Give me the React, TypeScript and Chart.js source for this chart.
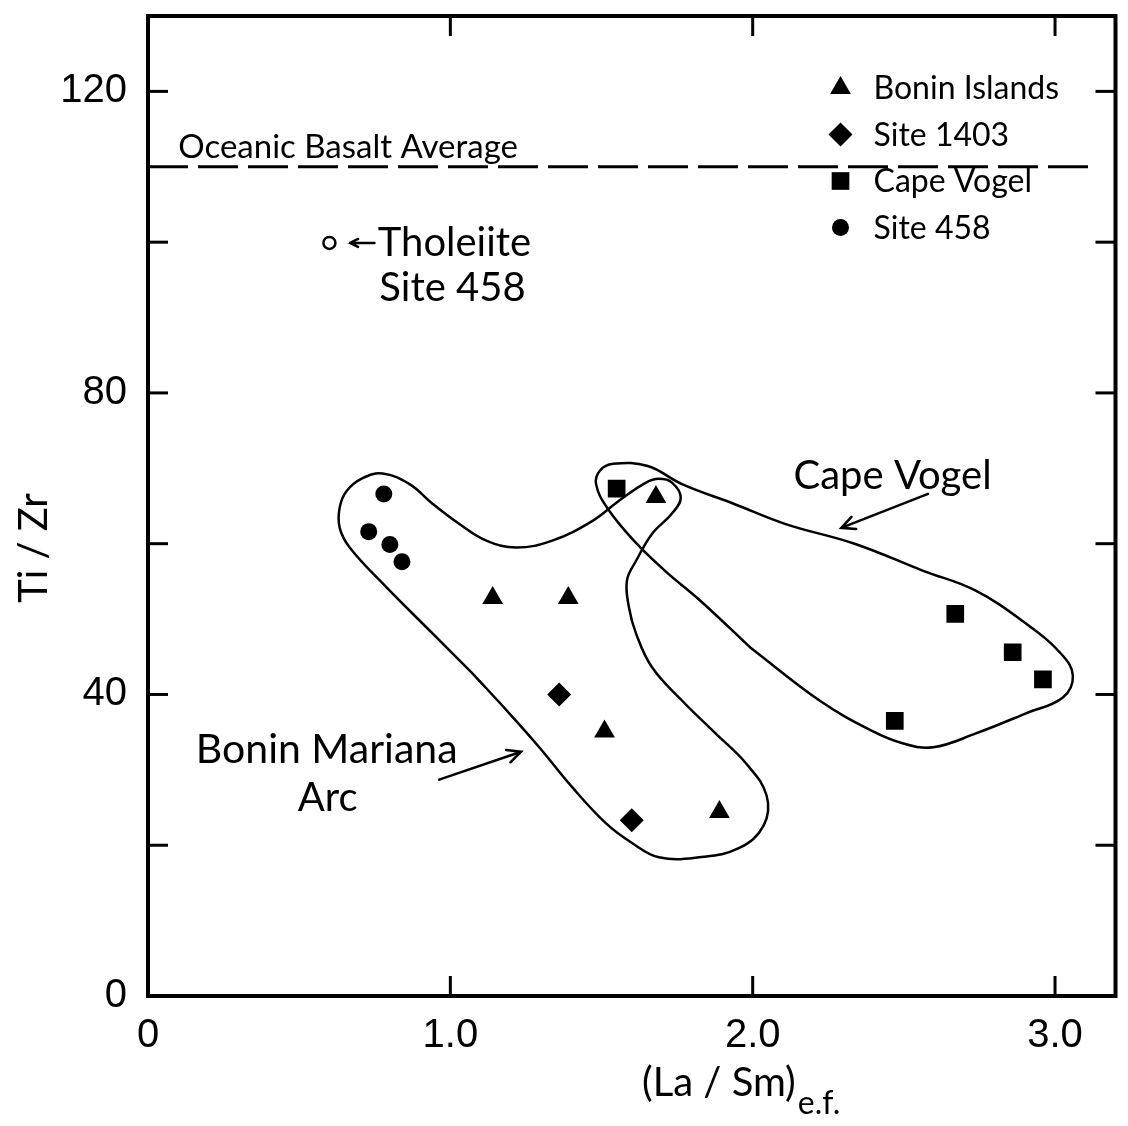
import React, { useEffect, useRef } from 'react';
import { Chart, registerables } from 'chart.js';
import { drawPoint } from 'chart.js/helpers';

Chart.register(...registerables);

// ---------------- data ----------------
const X_TICKS = [0, 1, 2, 3];
const X_TICK_LABELS = ['0', '1.0', '2.0', '3.0'];
const Y_TICKS = [0, 20, 40, 60, 80, 100, 120];
const Y_TICK_LABELS = ['0', '', '40', '', '80', '', '120'];

const BONIN_ISLANDS_X = [1.14, 1.39, 1.51, 1.89, 1.68];
const BONIN_ISLANDS_Y = [52.8, 52.8, 35.1, 24.4, 66.2];
const SITE_1403_X = [1.36, 1.6];
const SITE_1403_Y = [40.0, 23.3];
const CAPE_VOGEL_X = [1.55, 2.67, 2.86, 2.96, 2.47];
const CAPE_VOGEL_Y = [67.3, 50.7, 45.6, 42.0, 36.5];
const SITE_458_X = [0.78, 0.73, 0.8, 0.84];
const SITE_458_Y = [66.6, 61.6, 59.9, 57.6];
const THOLEIITE_X = [0.6];
const THOLEIITE_Y = [99.9];

const OCEANIC_AVG_X = [0.0, 3.14];
const OCEANIC_AVG_Y = [110, 110];

const BONIN_ENV_X = [1.073, 0.941, 0.789, 0.667, 0.634, 0.634, 0.657, 0.71, 0.776, 0.865, 0.941, 1.03, 1.119, 1.218, 1.337, 1.469, 1.558, 1.647, 1.69, 1.733, 1.762, 1.733, 1.667, 1.614, 1.584, 1.591, 1.614, 1.667, 1.766, 1.878, 1.977, 2.046, 2.036, 1.954, 1.822, 1.69, 1.601, 1.515, 1.403, 1.294, 1.195];
const BONIN_ENV_Y = [42.8, 48.1, 54.2, 59.5, 62.1, 64.8, 67.0, 68.7, 69.3, 67.9, 65.3, 62.6, 60.4, 59.5, 60.4, 63.0, 65.7, 68.1, 68.6, 68.1, 66.1, 64.0, 61.3, 57.7, 55.1, 51.5, 48.1, 43.6, 39.2, 34.8, 30.9, 26.6, 22.6, 19.6, 18.4, 18.4, 20.3, 22.9, 27.7, 33.0, 37.5];

const CAPE_ENV_X = [1.993, 1.825, 1.71, 1.607, 1.518, 1.482, 1.495, 1.538, 1.653, 1.766, 1.937, 2.109, 2.337, 2.564, 2.736, 2.904, 3.02, 3.059, 3.026, 2.904, 2.736, 2.597, 2.498, 2.393, 2.221];
const CAPE_ENV_Y = [46.2, 52.5, 56.4, 60.4, 64.8, 67.9, 69.7, 70.6, 70.3, 67.9, 65.3, 62.6, 60.0, 56.4, 53.8, 49.4, 45.4, 42.5, 39.6, 37.5, 34.8, 33.0, 33.5, 35.2, 39.2];

const X_TITLE = '(La / Sm)';
const X_TITLE_SUB = 'e.f.';
const Y_TITLE = 'Ti / Zr';

// annotation texts (anchored in data units)
const NOTE_TEXTS = ['Oceanic Basalt Average', 'Tholeiite', 'Site 458', 'Cape Vogel', 'Bonin Mariana', 'Arc'];
const NOTE_X = [0.1, 0.76, 0.765, 2.135, 0.591, 0.594];
const NOTE_Y = [111.2, 99.9, 93.9, 69.0, 32.6, 26.3];

// arrows [x1, y1, x2(head), y2(head)] in data units
const ARROWS = [
  [0.749, 99.9, 0.668, 99.9],
  [2.58, 66.6, 2.293, 62.1],
  [0.963, 28.7, 1.234, 32.4],
];

// ---------------- styling ----------------
const TICK_FONT = '"Liberation Sans", Arial, sans-serif';
const TEXT_FONT = 'Lato, "Open Sans", sans-serif';
const INK = '#000';

const zip = (xs: number[], ys: number[]) => xs.map((x, i) => ({ x, y: ys[i] }));
const closed = (xs: number[], ys: number[]) => {
  const p = zip(xs, ys);
  return [...p, p[0]];
};

const framePlugin = {
  id: 'frameTicks',
  afterDraw(chart: any) {
    const { ctx, chartArea: a, scales } = chart;
    const xs = scales.x;
    const ys = scales.y;
    ctx.save();
    ctx.strokeStyle = INK;
    ctx.lineWidth = 4;
    ctx.lineCap = 'square';
    ctx.strokeRect(a.left, a.top, a.right - a.left, a.bottom - a.top);
    ctx.lineWidth = 3;
    ctx.lineCap = 'butt';
    const L = 20;
    const seg = (x1: number, y1: number, x2: number, y2: number) => {
      ctx.beginPath();
      ctx.moveTo(x1, y1);
      ctx.lineTo(x2, y2);
      ctx.stroke();
    };
    X_TICKS.filter((v) => v > 0).forEach((v) => {
      const px = xs.getPixelForValue(v);
      seg(px, a.bottom, px, a.bottom - L);
      seg(px, a.top, px, a.top + L);
    });
    Y_TICKS.filter((v) => v > 0).forEach((v) => {
      const py = ys.getPixelForValue(v);
      seg(a.left, py, a.left + L, py);
      seg(a.right, py, a.right - L, py);
    });
    ctx.restore();
  },
};

const notesPlugin = {
  id: 'notes',
  afterDatasetsDraw(chart: any) {
    const { ctx, chartArea: a, scales } = chart;
    const xs = scales.x;
    const ys = scales.y;
    ctx.save();
    ctx.fillStyle = INK;
    ctx.strokeStyle = INK;
    const sizes = [33, 40, 40, 40, 41, 40];
    const aligns = ['left', 'left', 'left', 'left', 'center', 'center'];
    NOTE_TEXTS.forEach((t, i) => {
      ctx.font = `${sizes[i]}px ${TEXT_FONT}`;
      ctx.textAlign = aligns[i];
      ctx.textBaseline = i === 0 ? 'alphabetic' : 'middle';
      ctx.fillText(t, xs.getPixelForValue(NOTE_X[i]), ys.getPixelForValue(NOTE_Y[i]));
    });
    // arrows
    ctx.lineWidth = 2.5;
    ctx.lineCap = 'round';
    ARROWS.forEach(([x1, y1, x2, y2], i) => {
      const p1x = xs.getPixelForValue(x1);
      const p1y = ys.getPixelForValue(y1);
      const p2x = xs.getPixelForValue(x2);
      const p2y = ys.getPixelForValue(y2);
      const ang = Math.atan2(p2y - p1y, p2x - p1x);
      const h = i === 0 ? 9 : 15;
      ctx.beginPath();
      ctx.moveTo(p1x, p1y);
      ctx.lineTo(p2x, p2y);
      ctx.moveTo(p2x - h * Math.cos(ang - 0.45), p2y - h * Math.sin(ang - 0.45));
      ctx.lineTo(p2x, p2y);
      ctx.lineTo(p2x - h * Math.cos(ang + 0.45), p2y - h * Math.sin(ang + 0.45));
      ctx.stroke();
    });
    // legend (drawn from the first four datasets)
    const lx = a.right - 275;
    const tx = a.right - 242;
    const ty0 = a.top + 72;
    const dy = 46.5;
    ctx.font = `32px ${TEXT_FONT}`;
    ctx.textAlign = 'left';
    ctx.textBaseline = 'middle';
    chart.data.datasets.slice(0, 4).forEach((ds: any, i: number) => {
      const y = ty0 + dy * i;
      ctx.fillStyle = INK;
      drawPoint(ctx, { pointStyle: ds.pointStyle, radius: ds.pointRadius, rotation: 0, borderWidth: 0 } as any, lx, y);
      ctx.fillText(ds.label, tx, y + 1);
    });
    // axis titles
    ctx.fillStyle = INK;
    ctx.font = `40px ${TEXT_FONT}`;
    ctx.textAlign = 'left';
    ctx.textBaseline = 'alphabetic';
    const titleX = 642;
    const titleY = a.bottom + 100;
    ctx.fillText(X_TITLE, titleX, titleY);
    const w = ctx.measureText(X_TITLE).width;
    ctx.font = `32px ${TEXT_FONT}`;
    ctx.fillText(X_TITLE_SUB, titleX + w + 2, titleY + 18);
    ctx.save();
    ctx.translate(a.left - 114, 548);
    ctx.rotate(-Math.PI / 2);
    ctx.font = `40px ${TEXT_FONT}`;
    ctx.textAlign = 'center';
    ctx.textBaseline = 'middle';
    ctx.fillText(Y_TITLE, 0, 0);
    ctx.restore();
    ctx.restore();
  },
};

export default function App() {
  const ref = useRef<HTMLCanvasElement>(null);
  useEffect(() => {
    const marker = (label: string, xs: number[], ys: number[], style: string, r: number) => ({
      type: 'scatter' as const,
      label,
      data: zip(xs, ys),
      pointStyle: style,
      pointRadius: r,
      pointBackgroundColor: INK,
      pointBorderColor: INK,
      pointBorderWidth: 0,
      showLine: false,
    });
    const outline = (label: string, data: any[], extra: any = {}) => ({
      type: 'line' as const,
      label,
      data,
      borderColor: INK,
      borderWidth: 2.5,
      pointRadius: 0,
      tension: 0.4,
      fill: false,
      showLine: true,
      ...extra,
    });
    const chart = new Chart(ref.current as HTMLCanvasElement, {
      type: 'scatter',
      data: {
        datasets: [
          marker('Bonin Islands', BONIN_ISLANDS_X, BONIN_ISLANDS_Y, 'triangle', 12),
          marker('Site 1403', SITE_1403_X, SITE_1403_Y, 'rectRot', 12),
          marker('Cape Vogel', CAPE_VOGEL_X, CAPE_VOGEL_Y, 'rect', 12.5),
          marker('Site 458', SITE_458_X, SITE_458_Y, 'circle', 8.5),
          {
            type: 'scatter',
            label: 'Tholeiite Site 458',
            data: zip(THOLEIITE_X, THOLEIITE_Y),
            pointStyle: 'circle',
            pointRadius: 6,
            pointBackgroundColor: '#fff',
            pointBorderColor: INK,
            pointBorderWidth: 2.5,
          },
          outline('Oceanic Basalt Average', zip(OCEANIC_AVG_X, OCEANIC_AVG_Y), { borderDash: [40, 10], borderWidth: 3, tension: 0 }),
          outline('Bonin Mariana Arc field', closed(BONIN_ENV_X, BONIN_ENV_Y)),
          outline('Cape Vogel field', closed(CAPE_ENV_X, CAPE_ENV_Y)),
        ] as any,
      },
      options: {
        animation: false,
        responsive: true,
        maintainAspectRatio: false,
        devicePixelRatio: 1,
        events: [],
        layout: { padding: { left: 0, top: 16, right: 10, bottom: 0 } },
        plugins: {
          legend: { display: false },
          tooltip: { enabled: false },
        },
        scales: {
          x: {
            type: 'linear',
            min: 0,
            max: 3.2,
            afterBuildTicks: (s: any) => {
              s.ticks = X_TICKS.map((v) => ({ value: v }));
            },
            afterFit: (s: any) => {
              s.height = 130;
              s.paddingLeft = 0;
              s.paddingRight = 0;
            },
            ticks: {
              autoSkip: false,
              maxRotation: 0,
              padding: 16,
              color: INK,
              font: { family: TICK_FONT, size: 40 },
              callback: (v: any) => X_TICK_LABELS[X_TICKS.indexOf(Number(v))] ?? '',
            },
            grid: { display: false, drawTicks: false },
            border: { display: false },
          },
          y: {
            type: 'linear',
            min: 0,
            max: 130,
            afterBuildTicks: (s: any) => {
              s.ticks = Y_TICKS.map((v) => ({ value: v }));
            },
            afterFit: (s: any) => {
              s.width = 148;
              s.paddingTop = 0;
              s.paddingBottom = 0;
            },
            ticks: {
              autoSkip: false,
              padding: 21,
              color: INK,
              font: { family: TICK_FONT, size: 40 },
              callback: (v: any) => Y_TICK_LABELS[Y_TICKS.indexOf(Number(v))] ?? '',
            },
            grid: { display: false, drawTicks: false },
            border: { display: false },
          },
        },
      } as any,
      plugins: [framePlugin, notesPlugin],
    });
    return () => chart.destroy();
  }, []);
  return (
    <div style={{ position: 'absolute', left: 0, top: 0, width: 1128, height: 1126, background: '#fff' }}>
      <canvas ref={ref} />
    </div>
  );
}
